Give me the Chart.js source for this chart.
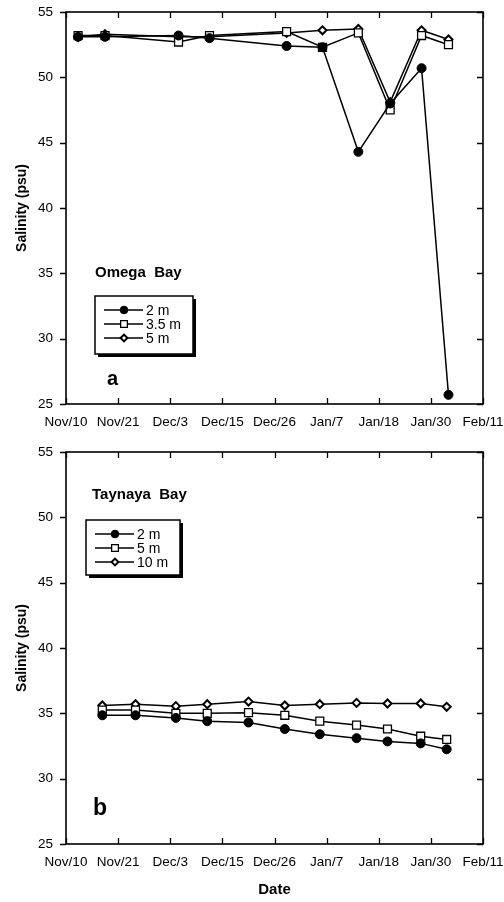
<!DOCTYPE html>
<html>
<head>
<meta charset="utf-8">
<script src="https://cdn.jsdelivr.net/npm/chart.js@4"></script>
<style>
  body { margin: 0; background: #fff; }
  #wrap { position: relative; width: 504px; height: 902px; }
  canvas { position: absolute; left: 0; }
</style>
</head>
<body>
<div id="wrap">
  <canvas id="omegaChart" width="504" height="440" style="top:0"></canvas>
  <canvas id="taynayaChart" width="504" height="462" style="top:440px"></canvas>
</div>
<script>
// tick labels on the date axis (Nov 10 -> Feb 11 = 93 days, 8 equal steps)
const dateTicks = ['Nov/10', 'Nov/21', 'Dec/3', 'Dec/15', 'Dec/26', 'Jan/7', 'Jan/18', 'Jan/30', 'Feb/11'];
const spanDays = 93;
const salinityTicks = [25, 30, 35, 40, 45, 50, 55];

// Omega Bay - sampling days (days since Nov 10)
const omegaDays = [2.7, 8.7, 25.1, 32.0, 49.2, 57.2, 65.2, 72.3, 79.3, 85.3];
const omega2m  = [53.1, 53.1, 53.2, 53.0, 52.4, 52.3, 44.3, 48.0, 50.7, 25.7];
const omega35m = [53.2, 53.2, 52.7, 53.2, 53.5, 52.3, 53.4, 47.5, 53.2, 52.5];
const omega5m  = [53.1, 53.3, 53.1, 53.1, 53.4, 53.6, 53.7, 48.1, 53.6, 52.9];

// Taynaya Bay
const taynayaDays = [8.1, 15.5, 24.5, 31.5, 40.7, 48.8, 56.6, 64.8, 71.7, 79.1, 84.9];
const taynaya2m  = [34.85, 34.85, 34.65, 34.4, 34.3, 33.8, 33.4, 33.1, 32.85, 32.7, 32.25];
const taynaya5m  = [35.25, 35.25, 35.0, 35.0, 35.05, 34.85, 34.4, 34.1, 33.8, 33.25, 33.0];
const taynaya10m = [35.6, 35.7, 35.55, 35.7, 35.9, 35.6, 35.7, 35.8, 35.75, 35.75, 35.5];

const FONT = "'Liberation Sans', Arial, Helvetica, sans-serif";
const step = spanDays / (dateTicks.length - 1);

const pts = (days, vals) => days.map((d, i) => ({ x: d, y: vals[i] }));

// marker looks
const filledCircle = { pointStyle: 'circle', pointRadius: 4.5, pointBackgroundColor: '#000', pointBorderWidth: 1 };
const openSquare = { pointStyle: 'rect', pointRadius: 5.6, pointBackgroundColor: '#fff', pointBorderWidth: 1.3 };
const openDiamond = { pointStyle: 'rectRot', pointRadius: 4, pointBackgroundColor: '#fff', pointBorderWidth: 2 };

function series(label, data, marker) {
  return Object.assign({
    label, data,
    borderColor: '#000', borderWidth: 1.5,
    pointBorderColor: '#000', fill: false, tension: 0
  }, marker);
}

// box, inward ticks, panel name, letter and legend box
const panelDecor = {
  id: 'panelDecor',
  afterDraw(chart, args, o) {
    const { ctx, chartArea: a, scales: { x, y } } = chart;
    ctx.save();
    ctx.strokeStyle = '#000';
    ctx.lineWidth = 1.6;
    ctx.strokeRect(a.left, a.top, a.right - a.left, a.bottom - a.top);

    ctx.lineWidth = 1.3;
    ctx.beginPath();
    x.ticks.forEach(t => {
      const px = Math.round(x.getPixelForValue(t.value)) + 0.5;
      ctx.moveTo(px, a.top); ctx.lineTo(px, a.top + 6);
      ctx.moveTo(px, a.bottom); ctx.lineTo(px, a.bottom - 6);
    });
    y.ticks.forEach(t => {
      const py = Math.round(y.getPixelForValue(t.value)) + 0.5;
      ctx.moveTo(a.left, py); ctx.lineTo(a.left - 6, py);
      ctx.moveTo(a.right, py); ctx.lineTo(a.right - 6, py);
    });
    ctx.stroke();

    ctx.fillStyle = '#000';
    ctx.textBaseline = 'middle';
    ctx.textAlign = 'left';
    ctx.font = 'bold 15px ' + FONT;
    ctx.fillText(o.title, o.titleX, o.titleY);
    ctx.font = 'bold ' + o.letterSize + 'px ' + FONT;
    ctx.fillText(o.letter, o.letterX, o.letterY);

    // legend
    const b = o.legend;
    ctx.fillRect(b.x + 3, b.y + 3, b.w, b.h);
    ctx.fillStyle = '#fff';
    ctx.fillRect(b.x, b.y, b.w, b.h);
    ctx.lineWidth = 1.5;
    ctx.strokeRect(b.x, b.y, b.w, b.h);
    ctx.font = '14px ' + FONT;
    chart.data.datasets.forEach((ds, i) => {
      const ry = b.y + 14 + i * 14;
      ctx.strokeStyle = '#000';
      ctx.lineWidth = 1.3;
      ctx.beginPath();
      ctx.moveTo(b.x + 9, ry); ctx.lineTo(b.x + 48, ry);
      ctx.stroke();
      ctx.fillStyle = ds.pointBackgroundColor;
      ctx.lineWidth = ds.pointBorderWidth;
      Chart.helpers.drawPoint(ctx, {
        pointStyle: ds.pointStyle, radius: ds.pointRadius * 0.85,
        borderWidth: ds.pointBorderWidth, rotation: 0
      }, b.x + 29, ry);
      ctx.fillStyle = '#000';
      ctx.fillText(ds.label, b.x + 51, ry + 1);
    });
    ctx.restore();
  }
};

function makePanel(id, datasets, decor, xHeight, showDate) {
  return new Chart(document.getElementById(id), {
    type: 'line',
    data: { datasets },
    options: {
      responsive: false,
      animation: false,
      events: [],
      layout: { padding: { top: 12, right: 21, left: 0, bottom: 0 } },
      plugins: { legend: { display: false }, tooltip: { enabled: false }, panelDecor: decor },
      scales: {
        x: {
          type: 'linear', min: 0, max: spanDays,
          afterFit: s => { s.height = xHeight; s.paddingLeft = 0; s.paddingRight = 0; },
          afterBuildTicks: s => { s.ticks = dateTicks.map((_, i) => ({ value: i * step })); },
          grid: { display: false, drawTicks: false },
          border: { display: false },
          ticks: {
            color: '#000', padding: 10, maxRotation: 0, autoSkip: false,
            font: { family: FONT, size: 13.5 },
            callback: v => dateTicks[Math.round(v / step)]
          },
          title: {
            display: showDate, text: 'Date', color: '#000',
            font: { family: FONT, size: 15, weight: 'bold' }, padding: { top: 0, bottom: 3 }
          }
        },
        y: {
          min: salinityTicks[0], max: salinityTicks[salinityTicks.length - 1],
          afterFit: s => { s.width = 66; s.paddingTop = 0; s.paddingBottom = 0; },
          afterBuildTicks: s => { s.ticks = salinityTicks.map(v => ({ value: v })); },
          grid: { display: false, drawTicks: false },
          border: { display: false },
          ticks: { color: '#000', padding: 13, font: { family: FONT, size: 13.5 } },
          title: {
            display: true, text: 'Salinity (psu)', color: '#000',
            font: { family: FONT, size: 14, weight: 'bold' }, padding: { top: 14, bottom: 0 }
          }
        }
      }
    },
    plugins: [panelDecor]
  });
}

makePanel('omegaChart', [
  series('2 m', pts(omegaDays, omega2m), filledCircle),
  series('3.5 m', pts(omegaDays, omega35m), openSquare),
  series('5 m', pts(omegaDays, omega5m), openDiamond)
], {
  title: 'Omega  Bay', titleX: 95, titleY: 273,
  letter: 'a', letterX: 107, letterY: 379, letterSize: 20,
  legend: { x: 95, y: 296, w: 98, h: 58 }
}, 36, false);

makePanel('taynayaChart', [
  series('2 m', pts(taynayaDays, taynaya2m), filledCircle),
  series('5 m', pts(taynayaDays, taynaya5m), openSquare),
  series('10 m', pts(taynayaDays, taynaya10m), openDiamond)
], {
  title: 'Taynaya  Bay', titleX: 92, titleY: 55,
  letter: 'b', letterX: 93, letterY: 369, letterSize: 23,
  legend: { x: 86, y: 80, w: 94, h: 55 }
}, 58, true);
</script>
</body>
</html>
